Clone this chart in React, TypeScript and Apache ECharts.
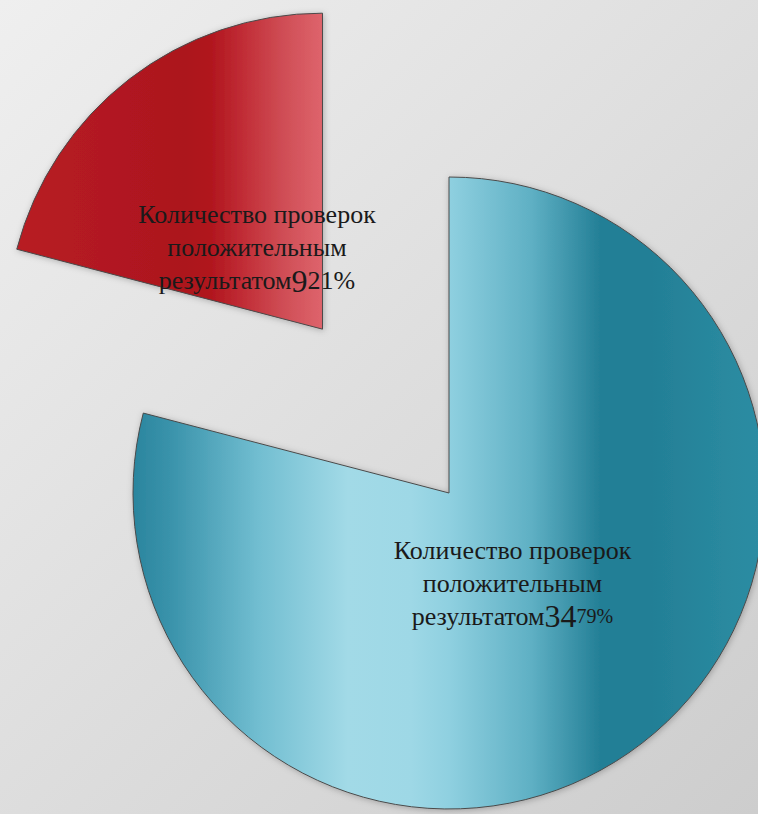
import React, { useEffect, useRef } from "react";
import * as echarts from "echarts";

// ---- data ----
const categories = ["Проверки (1)", "Проверки (2)"];
const values = [34, 9];
const percents = ["79%", "21%"];
const labelLines = ["Количество проверок", "положительным", "результатом"];

const RADIUS = 316;
const EXPLODE = 207;

export default function App() {
  const ref = useRef<HTMLDivElement | null>(null);

  useEffect(() => {
    document.body.style.margin = "0";
    if (!ref.current) return;
    const chart = echarts.init(ref.current, null, { renderer: "svg" });

    const total = values.reduce((a, b) => a + b, 0);
    const mids: number[] = [];
    let cum = 0;
    values.forEach((v) => {
      const startDeg = 90 - (cum / total) * 360;
      const endDeg = 90 - ((cum + v) / total) * 360;
      mids.push(((startDeg + endDeg) / 2) * (Math.PI / 180));
      cum += v;
    });

    const blueFill = new echarts.graphic.LinearGradient(0, 0, 1, 0, [
      { offset: 0, color: "#2a859e" },
      { offset: 0.06, color: "#3a93ab" },
      { offset: 0.2, color: "#72bed1" },
      { offset: 0.34, color: "#a2dae7" },
      { offset: 0.44, color: "#9ed8e6" },
      { offset: 0.5, color: "#8fd0e0" },
      { offset: 0.63, color: "#5fb0c4" },
      { offset: 0.74, color: "#237f96" },
      { offset: 0.82, color: "#237f96" },
      { offset: 0.95, color: "#2a8aa0" },
      { offset: 1, color: "#2d8ca3" },
    ]);
    const redFill = new echarts.graphic.LinearGradient(0, 0, 1, 0, [
      { offset: 0, color: "#b81c24" },
      { offset: 0.55, color: "#ac161e" },
      { offset: 0.63, color: "#b0151d" },
      { offset: 0.75, color: "#c22f38" },
      { offset: 0.87, color: "#cf4d55" },
      { offset: 1, color: "#de646c" },
    ]);
    const fills = [blueFill, redFill];

    const makeLabel = (i: number) =>
      `{t|${labelLines[0]}}\n{t|${labelLines[1]}}\n{t|${labelLines[2]}}{n|${values[i]}}{${i === 0 ? "s" : "t"}|${percents[i]}}`;

    chart.setOption({
      animation: false,
      series: [
        {
          type: "pie",
          center: [449, 493],
          radius: [0, RADIUS],
          startAngle: 90,
          clockwise: true,
          selectedMode: "single",
          selectedOffset: EXPLODE,
          avoidLabelOverlap: false,
          emphasis: { disabled: true },
          select: { itemStyle: { borderColor: "#4a4a4a", borderWidth: 1 } },
          itemStyle: {
            borderColor: "#4a4a4a",
            borderWidth: 1,
            shadowBlur: 6,
            shadowColor: "rgba(0,0,0,0.25)",
            shadowOffsetX: 1,
            shadowOffsetY: 1,
          },
          label: {
            show: true,
            position: "inside",
            formatter: (p: any) => makeLabel(p.dataIndex),
            color: "#1a1a1a",
            align: "center",
            rich: {
              t: { fontFamily: "Liberation Serif", fontSize: 26, lineHeight: 33, color: "#1a1a1a" },
              n: { fontFamily: "Liberation Serif", fontSize: 32, lineHeight: 33, color: "#1a1a1a" },
              s: { fontFamily: "Liberation Serif", fontSize: 20, lineHeight: 33, color: "#1a1a1a" },
            },
          },
          labelLine: { show: false },
          labelLayout: (params: any) => {
            const m = mids[params.dataIndex];
            const k = (0.34 - 0.5) * RADIUS;
            return { dx: Math.cos(m) * k - (params.dataIndex === 0 ? 4 : -2), dy: -Math.sin(m) * k + (params.dataIndex === 0 ? 3 : 6) };
          },
          data: values.map((v, i) => ({
            name: categories[i],
            value: v,
            selected: i === 1,
            itemStyle: { color: fills[i] },
          })),
        },
      ],
    });

    return () => chart.dispose();
  }, []);

  return (
    <div
      ref={ref}
      style={{
        position: "absolute",
        left: 0,
        top: 0,
        width: 758,
        height: 814,
        background: "linear-gradient(135deg, #efefef 0%, #dedede 50%, #cdcdcd 100%)",
      }}
    />
  );
}
